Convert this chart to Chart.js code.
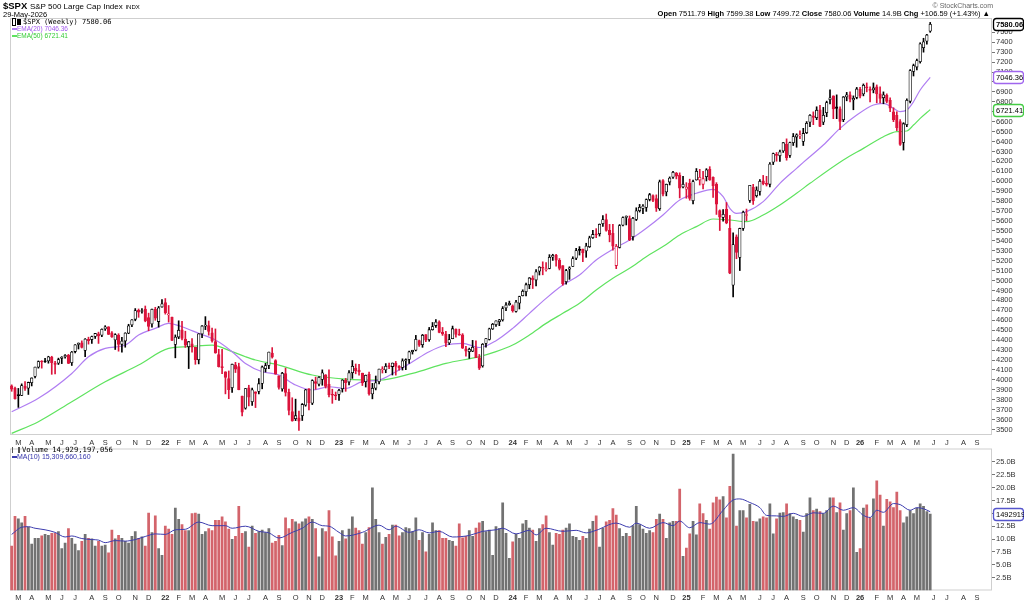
<!DOCTYPE html>
<html>
<head>
<meta charset="utf-8">
<script src="https://cdn.jsdelivr.net/npm/chart.js@4.4.1/dist/chart.umd.min.js"></script>
<style>
body { margin: 0; width: 1024px; height: 601px; background: #fff; overflow: hidden; position: relative; font-family: "Liberation Sans", Arial, sans-serif; }
canvas { position: absolute; left: 0; }
#price { top: 0; }
#vol { top: 443px; }
.t { position: absolute; white-space: nowrap; color: #000; }
.mono { font-family: "DejaVu Sans Mono", monospace; }
.ico { display: inline-block; vertical-align: middle; }
</style>
</head>
<body>
<canvas id="price" width="1024" height="447"></canvas>
<canvas id="vol" width="1024" height="158"></canvas>

<div class="t" style="left:3px;top:0px;font-size:9.5px;line-height:12px;font-weight:bold">$SPX <span style="font-size:8px;font-weight:normal">S&amp;P 500 Large Cap Index</span> <span style="font-size:6px;font-weight:normal">INDX</span></div>
<div class="t" style="left:3px;top:10px;font-size:7.5px;line-height:10px">29-May-2026</div>
<div class="t" style="right:31px;top:1px;font-size:7px;line-height:9px;color:#666">&#169; StockCharts.com</div>
<div class="t" style="right:34px;top:9px;font-size:7.5px;line-height:10px"><b>Open</b> 7511.79 <b>High</b> 7599.38 <b>Low</b> 7499.72 <b>Close</b> 7580.06 <b>Volume</b> 14.9B <b>Chg</b> +106.59 (+1.43%) &#9650;</div>

<div class="t mono" style="left:12px;top:18px;font-size:7px;line-height:9px"><span class="ico" style="width:2px;height:6px;border:1px solid #000;margin-right:1px"></span><span class="ico" style="width:2px;height:4px;background:#000;border:1px solid #000;margin-right:2px"></span>$SPX (Weekly) 7580.06</div>
<div class="t" style="left:12px;top:25px;font-size:6.5px;line-height:8px;color:#a155ee"><span class="ico" style="width:5px;height:2px;background:#b07ef2"></span>EMA(20) 7046.36</div>
<div class="t" style="left:12px;top:32px;font-size:6.5px;line-height:8px;color:#33cc33"><span class="ico" style="width:5px;height:2px;background:#5fe35f"></span>EMA(50) 6721.41</div>

<div class="t mono" style="left:12px;top:445px;font-size:7.2px;line-height:9px"><span class="ico" style="width:5px;height:6px;border-left:1px solid #555;border-right:2px solid #555;margin-right:2px"></span>Volume 14,929,197,056</div>
<div class="t" style="left:12px;top:453px;font-size:7px;line-height:8px;color:#3333aa"><span class="ico" style="width:5px;height:2px;background:#3c3cae"></span>MA(10) 15,309,660,160</div>

<script>
// weekly candles, first week ends 19-Feb-2021, last 29-May-2026
const firstWeek = Date.UTC(2021, 1, 19);
const slotCount = 294;          // axis runs on to the start of Oct 2026
const prevClose = 3934.83;      // close of the week before the first bar

const opens = [
  3939,3915,3842,3844,3934,3916,3971,4034,4127,4184,
  4185,4191,4229,4169,4168,4216,4230,4248,4173,4285,
  4356,4372,4297,4409,4406,4438,4463,4450,4513,4535,
  4474,4402,4450,4358,4391,4471,4553,4610,4701,4689,
  4712,4628,4564,4710,4587,4733,4778,4655,4632,4357,
  4431,4505,4412,4333,4363,4328,4202,4462,4541,4547,
  4474,4385,4255,4130,4082,4013,3920,4151,4134,3838,
  3715,3920,3781,3880,3883,3965,4113,4145,4269,4195,
  4041,3909,4064,3875,3682,3610,3619,3638,3746,3911,
  3766,3983,3956,4005,4052,3954,3853,3843,3853,3910,
  3999,3978,4073,4120,4098,4068,3982,4055,3859,3917,
  3982,4102,4100,4138,4134,4166,4136,4126,4190,4205,
  4283,4298,4396,4354,4455,4404,4505,4547,4584,4479,
  4460,4372,4415,4510,4462,4453,4312,4284,4289,4320,
  4225,4140,4367,4407,4512,4555,4586,4604,4725,4758,
  4745,4690,4772,4848,4888,4957,5026,5005,5094,5132,
  5111,5123,5235,5257,5205,5150,4988,5114,5142,5225,
  5305,5316,5298,5341,5432,5470,5471,5572,5615,5505,
  5476,5151,5334,5557,5636,5624,5442,5615,5703,5726,
  5737,5816,5857,5826,5723,6007,5893,5992,6040,6083,
  6063,5942,5920,5982,5804,6014,6012,5969,6046,6121,
  6039,5968,5705,5635,5718,5527,4953,5441,5232,5525,
  5655,5807,5938,5855,5897,6004,5980,5969,6193,6271,
  6256,6305,6372,6260,6389,6445,6457,6401,6490,6594,
  6660,6641,6720,6595,6690,6820,6860,6750,6730,6620,
  6850,6870,6820,6845,6925,6880,6950,6920,6920,6950,
  6880,6840,6865,6815,6700,6665,6600,6390,6570,6805,
  7105,7150,7205,7345,7410,7511.79
];
const highs = [
  3950,3928,3914,3960,3983,3978,4020,4129,4191,4194,
  4218,4238,4238,4188,4219,4234,4255,4257,4287,4356,
  4372,4393,4415,4430,4441,4468,4481,4513,4546,4536,
  4486,4465,4465,4429,4475,4560,4608,4718,4714,4717,
  4744,4672,4713,4731,4740,4808,4819,4749,4632,4453,
  4595,4590,4490,4386,4416,4329,4465,4546,4637,4593,
  4521,4513,4308,4307,4082,4090,4158,4177,4168,3838,
  3913,3946,3918,3880,4012,4140,4167,4280,4325,4203,
  4041,4076,4119,3907,3820,3806,3685,3762,3905,3912,
  4001,4028,4034,4101,4053,4101,3906,3878,3906,4003,
  4015,4094,4195,4160,4156,4068,4049,4079,3965,4039,
  4110,4133,4164,4169,4170,4186,4143,4212,4212,4290,
  4298,4448,4400,4458,4456,4528,4578,4607,4595,4528,
  4490,4458,4542,4514,4511,4466,4338,4320,4398,4393,
  4256,4366,4415,4521,4569,4595,4610,4738,4778,4793,
  4755,4802,4843,4907,4975,5030,5048,5111,5141,5189,
  5180,5261,5265,5264,5222,5150,5114,5139,5240,5325,
  5342,5316,5376,5447,5505,5523,5570,5655,5670,5566,
  5566,5364,5564,5642,5651,5651,5636,5733,5767,5765,
  5822,5878,5863,5863,6012,6017,5972,6044,6099,6089,
  6085,6050,5986,6021,6012,6128,6120,6101,6127,6147,
  6044,5986,5712,5715,5786,5656,5481,5460,5528,5700,
  5720,5959,5969,5944,6017,6059,6050,6187,6284,6290,
  6315,6390,6427,6395,6481,6478,6509,6533,6601,6672,
  6699,6750,6764,6744,6807,6920,6860,6870,6750,6853,
  6895,6901,6860,6945,6945,6980,6990,6950,6990,6970,
  6950,6900,6880,6840,6740,6700,6620,6590,6830,7125,
  7180,7230,7395,7440,7480,7599.38
];
const lows = [
  3885,3805,3723,3841,3894,3853,3939,4021,4118,4118,
  4175,4168,4056,4061,4155,4164,4218,4164,4145,4271,
  4311,4321,4233,4360,4368,4417,4367,4436,4498,4456,
  4427,4306,4289,4278,4329,4465,4537,4595,4630,4672,
  4585,4495,4532,4600,4531,4733,4662,4582,4395,4222,
  4415,4402,4327,4114,4279,4157,4161,4424,4506,4450,
  4381,4268,4129,4063,3859,3811,3875,4074,3900,3637,
  3705,3738,3742,3721,3859,3910,4079,4112,4219,4057,
  3907,3886,3837,3647,3584,3590,3491,3591,3735,3698,
  3751,3906,3938,3946,3918,3828,3764,3800,3794,3877,
  3885,3949,4015,4061,4048,3943,3928,3847,3809,3899,
  3960,4069,4072,4113,4049,4048,4099,4099,4103,4166,
  4260,4292,4336,4328,4385,4389,4501,4528,4474,4448,
  4335,4356,4414,4430,4449,4316,4238,4216,4284,4223,
  4104,4128,4329,4401,4507,4538,4546,4592,4697,4751,
  4682,4682,4714,4845,4845,4918,4920,4946,5056,5058,
  5094,5118,5203,5146,5107,4953,4963,5012,5142,5211,
  5257,5191,5234,5333,5424,5432,5448,5546,5497,5390,
  5306,5120,5328,5550,5560,5402,5406,5604,5690,5674,
  5697,5802,5795,5696,5707,5853,5853,5963,6028,6024,
  5832,5932,5829,5809,5773,6011,5962,5923,6003,6009,
  5837,5666,5504,5597,5572,5069,4835,5220,5101,5506,
  5603,5786,5767,5840,5861,5964,5952,5943,6168,6202,
  6201,6290,6212,6240,6360,6343,6430,6360,6480,6551,
  6570,6620,6550,6570,6650,6780,6630,6630,6520,6600,
  6810,6800,6720,6830,6840,6860,6900,6800,6890,6790,
  6790,6780,6790,6700,6600,6510,6360,6314,6550,6790,
  7060,7120,7190,7300,7380,7499.72
];
const closes = [
  3906.71,3811.15,3841.94,3943.34,3913.10,3974.54,4019.87,4128.80,4185.47,4180.17,
  4181.17,4232.60,4173.85,4155.86,4204.11,4229.89,4247.44,4166.45,4280.70,4352.34,
  4369.55,4327.16,4411.79,4395.26,4436.52,4468.00,4441.67,4509.37,4535.43,4458.58,
  4432.99,4455.48,4357.04,4391.34,4471.37,4544.90,4605.38,4697.53,4682.85,4697.96,
  4594.62,4538.43,4712.02,4620.64,4725.79,4766.18,4677.03,4662.85,4397.94,4431.85,
  4500.53,4418.64,4348.87,4384.65,4328.87,4204.31,4463.12,4543.06,4545.86,4488.28,
  4392.59,4271.78,4131.93,4123.34,4023.89,3901.36,4158.24,4108.54,3900.86,3674.84,
  3911.74,3825.33,3899.38,3863.16,3961.63,4130.29,4145.19,4280.15,4228.48,4057.66,
  3924.26,4067.36,3873.33,3693.23,3585.62,3639.66,3583.07,3752.75,3901.06,3770.55,
  3992.93,3965.34,4026.12,4071.70,3934.38,3852.36,3844.82,3839.50,3895.08,3999.09,
  3972.61,4070.56,4136.48,4090.46,4079.09,3970.04,4045.64,3861.59,3916.64,3970.99,
  4109.31,4105.02,4137.64,4133.52,4169.48,4136.25,4124.08,4191.98,4205.45,4282.37,
  4298.86,4409.59,4348.33,4450.38,4398.95,4505.42,4536.34,4582.23,4478.03,4464.05,
  4369.71,4405.71,4515.77,4457.49,4450.32,4320.06,4288.05,4308.50,4327.78,4224.16,
  4117.37,4358.34,4415.24,4514.02,4559.34,4594.63,4604.37,4719.19,4754.63,4769.83,
  4697.24,4783.83,4839.81,4890.97,4958.61,5026.61,5005.57,5088.80,5137.08,5123.69,
  5117.09,5234.18,5254.35,5204.34,5123.41,4967.23,5099.96,5127.79,5222.68,5303.27,
  5304.72,5277.51,5346.99,5431.60,5464.62,5460.48,5567.19,5615.35,5505.00,5459.10,
  5346.56,5344.16,5554.25,5634.61,5648.40,5408.42,5626.02,5702.55,5738.17,5751.07,
  5815.03,5864.67,5808.12,5728.80,5995.54,5870.62,5969.34,6032.38,6090.27,6051.09,
  5930.85,5970.84,5942.47,5827.04,5996.66,6101.24,6040.53,6025.99,6114.63,6013.13,
  5954.50,5770.20,5638.94,5667.56,5580.94,5074.08,5363.36,5282.70,5525.21,5686.67,
  5659.91,5958.38,5802.82,5911.69,6000.36,5976.97,5967.84,6173.07,6279.35,6259.75,
  6296.79,6388.64,6238.01,6389.45,6449.80,6466.91,6460.26,6481.50,6584.29,6664.36,
  6643.70,6715.79,6552.51,6664.01,6791.69,6840.20,6728.80,6734.11,6602.99,6849.09,
  6870,6827,6834,6930,6858,6966,6940,6915,6940,6880,
  6835,6870,6805,6735,6620,6540,6370,6580,6815,7115,
  7165,7215,7385,7405,7473.47,7580.06
];
// weekly volume, billions of shares
const volumes = [
  8.7,14.5,14.0,13.2,14.5,12.4,9.1,10.2,10.2,10.7,
  11.0,10.8,11.2,11.2,11.5,8.2,9.3,12.1,10.2,9.1,
  7.8,9.6,11.0,10.2,10.1,8.7,9.6,8.7,8.9,7.4,
  11.8,10.1,10.8,10.2,9.6,9.3,10.6,11.5,10.2,10.5,
  8.7,15.1,11.3,14.6,8.2,6.9,12.6,12.0,11.0,16.1,
  13.9,12.9,11.7,11.7,15.0,15.1,14.9,11.0,11.5,12.1,
  11.7,13.7,13.7,14.4,13.4,12.0,10.0,10.6,16.4,11.2,
  11.5,8.5,12.6,11.2,11.5,11.8,11.3,12.1,9.3,9.6,
  10.8,8.8,14.2,12.1,13.9,13.4,13.0,13.4,14.0,14.4,
  13.9,12.1,6.6,12.1,11.5,15.6,10.5,6.8,9.6,11.7,
  10.1,12.0,14.4,12.2,11.7,9.1,11.3,12.3,20.0,13.9,
  11.3,9.1,10.4,11.0,12.8,12.8,10.7,11.3,12.3,12.1,
  11.5,14.2,9.8,11.3,7.6,11.0,13.2,11.7,11.7,10.2,
  10.2,9.8,9.6,8.7,13.0,10.3,10.6,11.7,10.6,12.2,
  13.2,13.5,11.5,11.8,6.9,12.5,12.1,17.1,11.2,6.3,
  9.5,11.0,10.2,13.0,13.7,12.2,11.8,9.6,12.1,12.9,
  14.6,11.3,8.9,11.2,11.0,11.8,12.2,13.0,10.6,10.4,
  9.8,10.6,10.2,12.0,13.5,14.6,8.5,12.2,13.4,13.7,
  16.0,14.7,12.1,10.6,11.2,10.6,12.7,16.4,12.9,12.0,
  11.2,11.7,11.3,13.9,14.9,13.9,10.2,13.2,13.5,13.5,
  19.8,6.7,8.3,11.1,13.5,10.9,16.9,15.0,13.7,12.0,
  17.1,18.2,17.7,18.3,14.2,20.3,26.6,12.6,15.6,15.6,
  14.2,16.8,13.5,13.4,14.0,14.4,14.2,16.9,11.1,14.0,
  15.1,15.2,16.9,15.0,14.4,13.9,13.7,11.4,15.0,18.1,
  15.6,15.9,15.4,15.0,15.6,18.1,18.1,15.2,17.1,11.8,
  15.0,15.6,20.0,7.5,8.2,16.1,16.7,14.2,17.9,21.4,
  18.6,12.6,17.8,17.3,16.2,19.2,15.6,13.2,14.4,15.6,
  15.0,16.1,16.9,16.4,15.4,14.93
];

// indicator lines at these week numbers
const ema20Weeks = [0,8,18,23,28,34,38,43,47,51,56,61,66,70,75,80,85,90,95,100,105,110,115,120,125,130,135,140,145,150,
  155,160,165,170,175,180,185,190,195,200,205,210,213,215,217,220,225,230,235,237,243,248,253,258,261,264,266,268,270,272,275];
const ema20 = [3679,3814,4065,4233,4317,4351,4451,4519,4569,4535,4468,4401,4284,4165,4082,4049,3948,3898,3931,3914,
  3982,3998,4082,4183,4284,4351,4368,4326,4395,4519,4670,4821,4955,5056,5207,5315,5409,5526,5660,5811,
  5879,5919,5845,5728,5677,5694,5795,5979,6130,6190,6365,6533,6667,6768,6784,6734,6701,6717,6801,6919,7046.36];
const ema50Weeks = [0,8,18,28,38,47,53,60,66,70,73,80,90,100,110,120,130,140,145,150,155,160,165,170,175,180,185,190,195,200,
  205,210,215,220,225,230,235,239,249,255,261,265,268,270,272,275];
const ema50 = [3461,3579,3780,3981,4149,4317,4334,4351,4284,4233,4200,4149,4049,4008,3998,4066,4166,4234,4284,4351,
  4452,4569,4670,4771,4905,5023,5123,5241,5342,5459,5543,5620,5610,5593,5660,5761,5879,5979,6214,6331,
  6449,6499,6506,6566,6633,6721.41];
const ma10Weeks = [0,3,5,7,10,13,16,18,21,24,26,28,31,34,37,40,43,46,49,52,56,60,64,66,70,74,77,80,84,87,
  90,93,95,98,100,105,110,113,115,119,122,125,128,132,137,141,145,147,151,155,157,160,165,169,172,175,181,185,187,191,
  195,198,200,203,206,209,213,216,218,221,224,226,229,231,234,237,240,243,246,249,252,255,257,259,261,264,266,269,271,273,275];
const ma10 = [10.9,12.3,12.4,12.1,11.8,11.3,10.4,10.6,10.1,9.9,9.8,9.3,9.7,9.6,9.9,10.5,11.0,10.9,11.8,11.9,
  13.3,12.6,12.6,12.1,12.5,11.5,11.2,10.2,11.3,12.1,13.3,12.6,12.5,11.3,10.6,11.3,12.7,11.8,12.5,11.3,
  11.8,11.2,11.5,10.4,10.7,11.5,11.8,12.1,11.0,11.7,10.8,12.1,11.5,11.7,11.2,11.7,13.1,12.3,13.1,12.1,
  13.2,12.6,13.5,12.2,13.2,12.9,15.6,17.6,17.8,17.1,16.1,14.6,14.5,14.4,15.0,14.4,15.1,15.0,16.4,15.6,
  16.1,14.6,14.2,15.6,15.2,16.9,16.7,15.6,16.1,15.9,15.31];

const priceTicks = [];
for (let v = 3500; v <= 7500; v += 100) priceTicks.push(v);
const volTicks = [2.5, 5, 7.5, 10, 12.5, 15, 17.5, 20, 22.5, 25];
const monthLetters = ['J','F','M','A','M','J','J','A','S','O','N','D'];

const weekDates = [], labels = [];
for (let i = 0; i < slotCount; i++) {
  const d = new Date(firstWeek + i * 7 * 86400000);
  weekDates.push(d);
  labels.push(d.toISOString().slice(0, 10));
}
function tickText(i) {
  // no label on the first slot, nor on the last one at the right edge
  if (i === 0 || i === slotCount - 1) return '';
  const m = weekDates[i].getUTCMonth();
  if (m === weekDates[i - 1].getUTCMonth()) return '';
  return m === 0 ? String(weekDates[i].getUTCFullYear()).slice(2) : monthLetters[m];
}
function sparse(weeks, vals) {
  const a = new Array(slotCount).fill(null);
  weeks.forEach((w, k) => { a[w] = vals[k]; });
  return a;
}

const RED = '#dc143c';
const down = closes.map((c, i) => c < (i ? closes[i - 1] : prevClose));
const candleColor = down.map(d => d ? RED : '#000');
const bodyFill = closes.map((c, i) => c < opens[i] ? candleColor[i] : '#fff');

Chart.defaults.font.family = '"Liberation Sans", Arial, sans-serif';

function xAxis(h) {
  return {
    type: 'category',
    offset: true,
    grid: { display: false },
    border: { display: false },
    ticks: {
      autoSkip: false, maxRotation: 0, minRotation: 0, padding: -5, color: '#333',
      font: c => ({ size: 7.5, weight: /\d/.test(tickText(c.index)) ? 'bold' : 'normal' }),
      callback: (v, i) => tickText(i)
    },
    afterFit: s => { s.height = h; }
  };
}

const framePlugin = {
  id: 'frame',
  beforeDatasetsDraw(chart) {
    const { ctx, chartArea: a } = chart;
    ctx.save();
    ctx.strokeStyle = '#cfcfcf';
    ctx.lineWidth = 1;
    ctx.strokeRect(a.left + 0.5, a.top + 0.5, a.width - 1, a.height - 1);
    ctx.restore();
  },
  afterDraw(chart, args, opts) {
    const { ctx } = chart;
    ctx.save();
    (opts.boxes || []).forEach(b => {
      const y = Math.round(chart.scales.y.getPixelForValue(b.value)) + 0.5;
      ctx.beginPath();
      ctx.roundRect(993.5, y - 6, 30, 12, 3);
      ctx.fillStyle = '#fff';
      ctx.fill();
      ctx.strokeStyle = b.color;
      ctx.lineWidth = 1.3;
      ctx.stroke();
      ctx.fillStyle = '#000';
      ctx.font = (b.bold ? 'bold ' : '') + '7.5px "Liberation Sans", Arial';
      ctx.textBaseline = 'middle';
      ctx.fillText(b.text, 996, y + 0.5);
    });
    ctx.restore();
  }
};

function yAxis(min, max, ticks, fmt) {
  return {
    position: 'right', min: min, max: max,
    grid: { drawOnChartArea: false, tickLength: 3, color: '#777' },
    border: { display: false },
    afterBuildTicks: s => { s.ticks = ticks.map(v => ({ value: v })); },
    ticks: { autoSkip: false, padding: 1, color: '#333', font: { size: 7.5 }, callback: fmt },
    afterFit: s => { s.width = 32; }
  };
}

new Chart(document.getElementById('price'), {
  type: 'bar',
  plugins: [framePlugin],
  data: {
    labels: labels,
    datasets: [{
      type: 'line', data: sparse(ema20Weeks, ema20), borderColor: '#b07ef2', borderWidth: 1.2,
      pointRadius: 0, spanGaps: true, cubicInterpolationMode: 'monotone', order: 3
    }, {
      type: 'line', data: sparse(ema50Weeks, ema50), borderColor: '#5fe35f', borderWidth: 1.2,
      pointRadius: 0, spanGaps: true, cubicInterpolationMode: 'monotone', order: 3
    }, {
      data: lows.map((l, i) => [l, highs[i]]), backgroundColor: candleColor,
      barThickness: 1, grouped: false, order: 2
    }, {
      data: opens.map((o, i) => [o, closes[i]]), backgroundColor: bodyFill, borderColor: candleColor,
      borderWidth: 0.8, borderSkipped: false, barThickness: 2.6, minBarLength: 1, grouped: false, order: 1
    }]
  },
  options: {
    responsive: false, animation: false, events: [],
    layout: { padding: { top: 18, left: 10, right: 0, bottom: 0 } },
    plugins: {
      legend: { display: false }, tooltip: { enabled: false },
      frame: { boxes: [
        { value: closes[closes.length - 1], text: '7580.06', color: '#000', bold: true },
        { value: ema20[ema20.length - 1], text: '7046.36', color: '#a066ee' },
        { value: ema50[ema50.length - 1], text: '6721.41', color: '#44cc44' }
      ] }
    },
    scales: {
      x: xAxis(12),
      y: yAxis(3445, 7644, priceTicks, v => String(v))
    }
  }
});

new Chart(document.getElementById('vol'), {
  type: 'bar',
  plugins: [framePlugin],
  data: {
    labels: labels,
    datasets: [{
      type: 'line', data: sparse(ma10Weeks, ma10), borderColor: '#3c3cae', borderWidth: 1,
      pointRadius: 0, spanGaps: true, cubicInterpolationMode: 'monotone', order: 0
    }, {
      data: volumes, backgroundColor: down.map(d => d ? '#d3646b' : '#727272'),
      barPercentage: 0.82, categoryPercentage: 1, order: 1
    }]
  },
  options: {
    responsive: false, animation: false, events: [],
    layout: { padding: { top: 1, left: 10, right: 0, bottom: 0 } },
    plugins: {
      legend: { display: false }, tooltip: { enabled: false },
      frame: { boxes: [{ value: volumes[volumes.length - 1], text: '14929197056', color: '#5555cc' }] }
    },
    scales: {
      x: xAxis(10.5),
      y: yAxis(0, 27.6, volTicks, v => v.toFixed(1) + 'B')
    }
  }
});
</script>
</body>
</html>
